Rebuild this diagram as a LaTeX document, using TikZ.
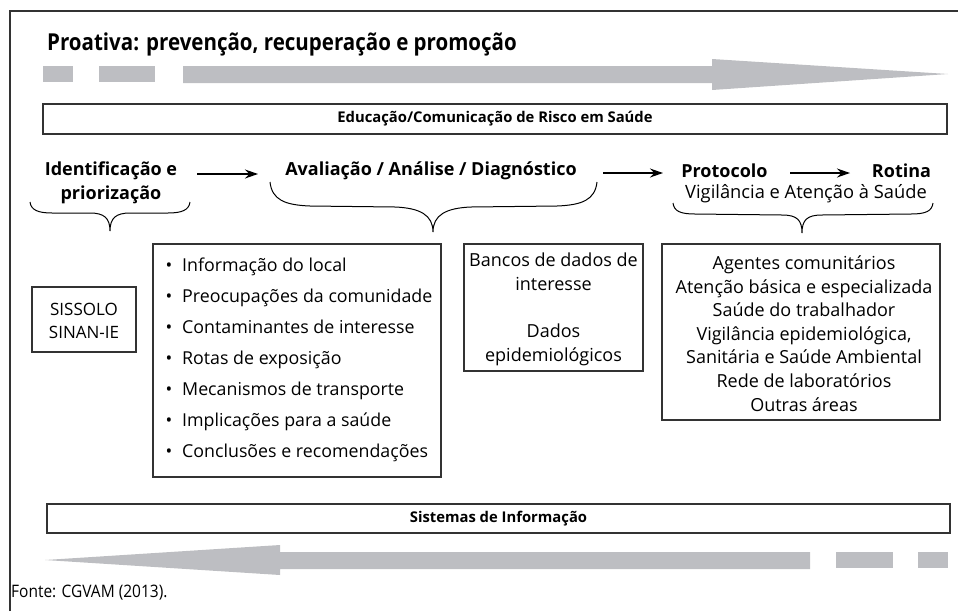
\documentclass[tikz,border=0pt]{standalone}
\usepackage{fontspec}
\setmainfont{Open Sans}
\newfontfamily\condfont[FakeStretch=0.88]{Open Sans}
\newfontfamily\srccondfont[FakeStretch=0.9]{Open Sans}
\usetikzlibrary{arrows.meta}
\definecolor{arrgray}{RGB}{189,190,194}
\definecolor{linegray}{RGB}{51,51,51}
\tikzset{
  boxline/.style={draw=linegray, line width=1.3pt},
  bigarrow/.style={fill=arrgray, draw=none},
  hdr/.style={inner sep=0pt, font=\fontsize{18}{24}\selectfont\bfseries},
  boxhdr/.style={inner sep=0pt, font=\fontsize{14.8}{16}\selectfont\bfseries},
  reg/.style={inner sep=0pt, font=\fontsize{18}{23.6}\selectfont},
  listtxt/.style={inner sep=0pt, align=left, font=\fontsize{17.8}{31}\selectfont},
  conn/.style={line width=1.2pt, -{Stealth[length=13pt,width=9pt]}},
  bracestyle/.style={line width=1pt, draw=black},
  frame/.style={draw=linegray, line width=1.5pt}
}
\begin{document}
\begin{tikzpicture}[x=1pt,y=-1pt]
\useasboundingbox (0,0) rectangle (958,611);
% frame
\draw[frame] (10,611) -- (10,11) -- (958,11);
% title
\node[inner sep=0pt, anchor=base west, font=\fontsize{23.3}{26}\condfont\bfseries] (title) at (47,50) {Proativa: prevenção, recuperação e promoção};
% top big arrow
\fill[bigarrow] (43,66) rectangle (73,82);
\fill[bigarrow] (99,66) rectangle (155,82);
\fill[bigarrow] (183,66) -- (712,66) -- (712,59) -- (948,74) -- (712,90) -- (712,83) -- (183,83) -- cycle;
% education box
\node[boxline, minimum width=904pt, minimum height=30pt, inner sep=0pt] (edu) at (495,119) {};
\node[boxhdr] (edutxt) at (edu.center) {Educação/Comunicação de Risco em Saúde};
% headers
\node[hdr, align=center] (ident) at (111,183) {Identificação e\\priorização};
\node[hdr] (aval) at (431,171) {Avaliação / Análise / Diagnóstico};
\node[hdr] (proto) at (724.5,171) {Protocolo};
\node[hdr] (rotina) at (901.5,171) {Rotina};
\node[font=\fontsize{18.3}{24}\selectfont, inner sep=0pt] (vig) at (806,194) {Vigilância e Atenção à Saúde};
% arrows
\coordinate (a1s) at (197,174); \coordinate (a1e) at (258,174);
\coordinate (a2s) at (603,173); \coordinate (a2e) at (663,173);
\coordinate (a3s) at (790,173); \coordinate (a3e) at (850,173);
\draw[conn] (a1s) -- (a1e);
\draw[conn] (a2s) -- (a2e);
\draw[conn] (a3s) -- (a3e);
% braces
\draw[bracestyle] (30,202) .. controls (31,210) and (38,213) .. (52,213) -- (90,213) .. controls (104,213) and (110,218) .. (110,231) .. controls (110,218) and (116,213) .. (130,213) -- (168,213) .. controls (182,213) and (189,210) .. (190,202);
\draw[bracestyle] (270,182) .. controls (272,200) and (285,205) .. (310,206) -- (395,207) .. controls (420,208) and (433,215) .. (433,232) .. controls (433,215) and (446,208) .. (471,207) -- (557,206) .. controls (582,205) and (595,200) .. (597,182);
\draw[bracestyle] (673,203) .. controls (674,211) and (680,214) .. (695,214) -- (782,215) .. controls (797,215) and (802,220) .. (802,233) .. controls (802,220) and (807,215) .. (822,215) -- (911,214) .. controls (926,214) and (932,211) .. (933,203);
% SISSOLO box
\node[boxline, minimum width=104pt, minimum height=65pt, inner sep=0pt] (siss) at (84,319.5) {};
\node[inner sep=0pt, align=center, font=\fontsize{17}{22.5}\selectfont] (sisstxt) at (84,321) {SISSOLO\\SINAN-IE};
% list box
\node[boxline, minimum width=288pt, minimum height=233pt, inner sep=0pt] (listbox) at (297,360.5) {};
\node[listtxt, anchor=west] (list) at (182,360) {%
\llap{•\hspace{10pt}}Informação do local\\
\llap{•\hspace{10pt}}Preocupações da comunidade\\
\llap{•\hspace{10pt}}Contaminantes de interesse\\
\llap{•\hspace{10pt}}Rotas de exposição\\
\llap{•\hspace{10pt}}Mecanismos de transporte\\
\llap{•\hspace{10pt}}Implicações para a saúde\\
\llap{•\hspace{10pt}}Conclusões e recomendações};
% bancos box
\node[boxline, minimum width=179pt, minimum height=127pt, inner sep=0pt] (banc) at (553.5,307.5) {};
\node[reg, align=center] (banctxt) at (553.5,309.5) {Bancos de dados de\\interesse\\[23.6pt]Dados\\epidemiológicos};
% right box
\node[boxline, minimum width=278pt, minimum height=176pt, inner sep=0pt] (rede) at (801,332) {};
\node[reg, align=center] (redetxt) at (804,333.5) {Agentes comunitários\\Atenção básica e especializada\\Saúde do trabalhador\\Vigilância epidemiológica,\\Sanitária e Saúde Ambiental\\Rede de laboratórios\\Outras áreas};
% sistemas box
\node[boxline, minimum width=903pt, minimum height=29pt, inner sep=0pt] (sis) at (498.5,518.5) {};
\node[boxhdr] (sistxt) at (sis.center) {Sistemas de Informação};
% bottom big arrow
\fill[bigarrow] (810,552) -- (280,552) -- (280,545) -- (45,560) -- (280,575) -- (280,569) -- (810,569) -- cycle;
\fill[bigarrow] (836,552) rectangle (893,568);
\fill[bigarrow] (918,552) rectangle (948,568);
% source
\node[inner sep=0pt, anchor=base west, font=\fontsize{17.2}{20}\srccondfont] (fonte) at (11,597) {Fonte: CGVAM (2013).};
\end{tikzpicture}
\end{document}
